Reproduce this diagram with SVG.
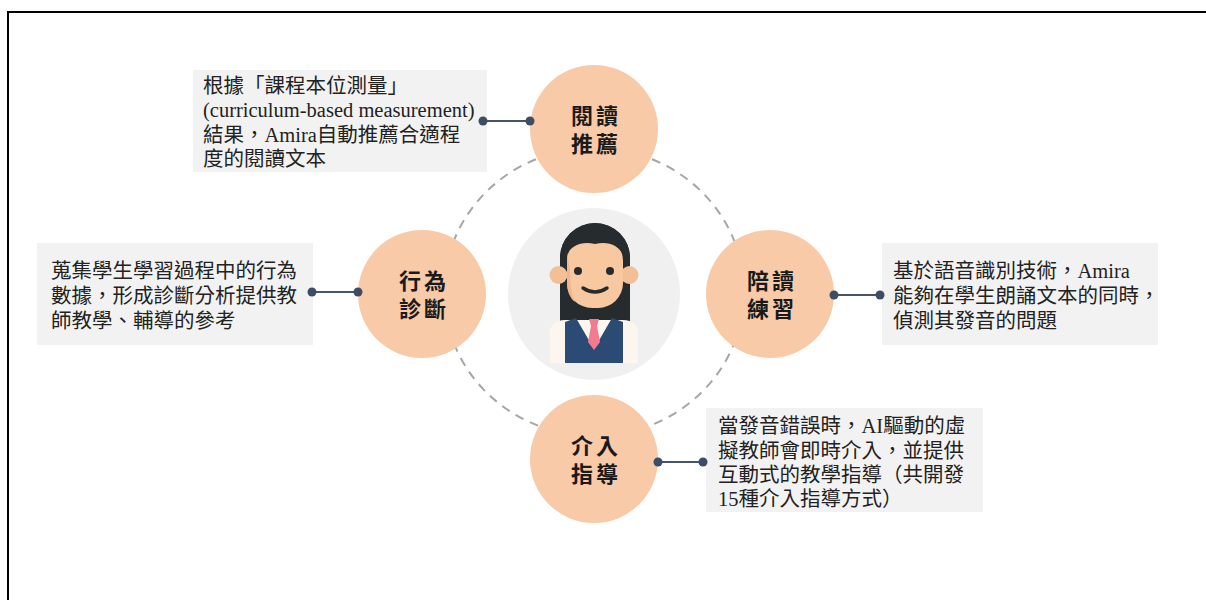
<svg xmlns="http://www.w3.org/2000/svg" width="1206" height="600" viewBox="0 0 1206 600">
  <style>
    .node-circle { fill: #f8caa8; }
    .node-label { font-family: "Liberation Serif", "Noto Sans CJK TC", serif; font-size: 22px; font-weight: bold; fill: #1a1a1a; letter-spacing: 3px; }
    .box { fill: #f2f2f2; }
    .box-text { font-family: "Liberation Serif", "Noto Sans CJK TC", serif; font-size: 20.5px; fill: #222222; }
    .link { stroke: #44546a; stroke-width: 2; fill: none; }
    .dot { fill: #3d4d63; }
    .ring { fill: none; stroke: #a6a6a6; stroke-width: 2; stroke-dasharray: 9 7; }
  </style>

  <rect width="1206" height="600" fill="#ffffff"/>
  <!-- page frame -->
  <path d="M8,600 V12 H1206" fill="none" stroke="#000000" stroke-width="2"/>

  <!-- dashed orbit -->
  <ellipse class="ring" cx="594" cy="292" rx="150" ry="144"/>

  <!-- central avatar -->
  <g id="avatar">
    <circle cx="594" cy="294" r="86" fill="#f0f0f0"/>
    <rect x="585" y="298" width="20" height="26" fill="#e8ae88"/>
    <path d="M560,323 V258 A35,35 0 0 1 630,258 V323 Z" fill="#262c2e"/>
    <circle cx="558.5" cy="275" r="9" fill="#f3bf97"/>
    <circle cx="629.5" cy="275" r="9" fill="#f3bf97"/>
    <rect x="567" y="236" width="56" height="72" rx="25" fill="#f8c9a0"/>
    <path d="M567,252 V282 Q567,296 575,302 Q570,292 570,270 Z" fill="#eeb78e"/>
    <path d="M564,266 C565,247 580,240 595,244 C610,240 624,247 626,264 L630,264 V258 A35,35 0 0 0 560,258 V266 Z" fill="#262c2e"/>
    <circle cx="578" cy="271" r="4" fill="#262c2e"/>
    <circle cx="610" cy="271" r="4" fill="#262c2e"/>
    <path d="M583,288 Q595,296 607,288" fill="none" stroke="#262c2e" stroke-width="3.5" stroke-linecap="round"/>
    <path d="M550,363 V334 Q550,320 565,320 H623 Q638,320 638,334 V363 Z" fill="#fcf6ef"/>
    <path d="M565,363 V322 L576,318 L594,349 L612,318 L623,322 V363 Z" fill="#2b4a74"/>
    <path d="M589,319 H599 L597,326 L600,342 L594,350 L588,342 L591,326 Z" fill="#f27b90"/>
  </g>

  <!-- reading recommendation -->
  <g id="node-recommend">
    <circle class="node-circle" cx="594" cy="129" r="64"/>
    <text class="node-label" x="571" y="124">閱讀</text>
    <text class="node-label" x="571" y="152">推薦</text>
  </g>
  <g id="note-recommend">
    <rect class="box" x="193" y="70" width="294" height="102"/>
    <text class="box-text" x="203" y="93">根據「課程本位測量」</text>
    <text class="box-text" x="203" y="117" font-size="21">(curriculum-based measurement)</text>
    <text class="box-text" x="203" y="142">結果，Amira自動推薦合適程</text>
    <text class="box-text" x="203" y="166">度的閱讀文本</text>
  </g>

  <!-- behaviour diagnosis -->
  <g id="node-diagnosis">
    <circle class="node-circle" cx="422" cy="294" r="64"/>
    <text class="node-label" x="399" y="289">行為</text>
    <text class="node-label" x="399" y="317">診斷</text>
  </g>
  <g id="note-diagnosis">
    <rect class="box" x="37" y="243" width="276" height="102"/>
    <text class="box-text" x="51" y="278">蒐集學生學習過程中的行為</text>
    <text class="box-text" x="51" y="303">數據，形成診斷分析提供教</text>
    <text class="box-text" x="51" y="328">師教學、輔導的參考</text>
  </g>

  <!-- reading practice -->
  <g id="node-practice">
    <circle class="node-circle" cx="770" cy="294" r="64"/>
    <text class="node-label" x="747" y="289">陪讀</text>
    <text class="node-label" x="747" y="317">練習</text>
  </g>
  <g id="note-practice">
    <rect class="box" x="882" y="243" width="276" height="102"/>
    <text class="box-text" x="893" y="278">基於語音識別技術，Amira</text>
    <text class="box-text" x="893" y="303">能夠在學生朗誦文本的同時，</text>
    <text class="box-text" x="893" y="328">偵測其發音的問題</text>
  </g>

  <!-- intervention guidance -->
  <g id="node-intervention">
    <circle class="node-circle" cx="594" cy="459" r="64"/>
    <text class="node-label" x="571" y="454">介入</text>
    <text class="node-label" x="571" y="482">指導</text>
  </g>
  <g id="note-intervention">
    <rect class="box" x="706" y="408" width="277" height="104"/>
    <text class="box-text" x="718" y="433">當發音錯誤時，AI驅動的虛</text>
    <text class="box-text" x="718" y="458">擬教師會即時介入，並提供</text>
    <text class="box-text" x="718" y="482">互動式的教學指導（共開發</text>
    <text class="box-text" x="718" y="506">15種介入指導方式）</text>
  </g>

  <!-- connectors between each node and its note -->
  <g id="connectors">
    <line class="link" x1="483" y1="121" x2="530" y2="121"/>
    <circle class="dot" cx="483" cy="121" r="4.5"/>
    <circle class="dot" cx="530" cy="121" r="4.5"/>

    <line class="link" x1="312" y1="292" x2="358" y2="292"/>
    <circle class="dot" cx="312" cy="292" r="4.5"/>
    <circle class="dot" cx="358" cy="292" r="4.5"/>

    <line class="link" x1="834" y1="295" x2="880" y2="295"/>
    <circle class="dot" cx="834" cy="295" r="4.5"/>
    <circle class="dot" cx="880" cy="295" r="4.5"/>

    <line class="link" x1="658" y1="462" x2="703" y2="462"/>
    <circle class="dot" cx="658" cy="462" r="4.5"/>
    <circle class="dot" cx="703" cy="462" r="4.5"/>
  </g>
</svg>
